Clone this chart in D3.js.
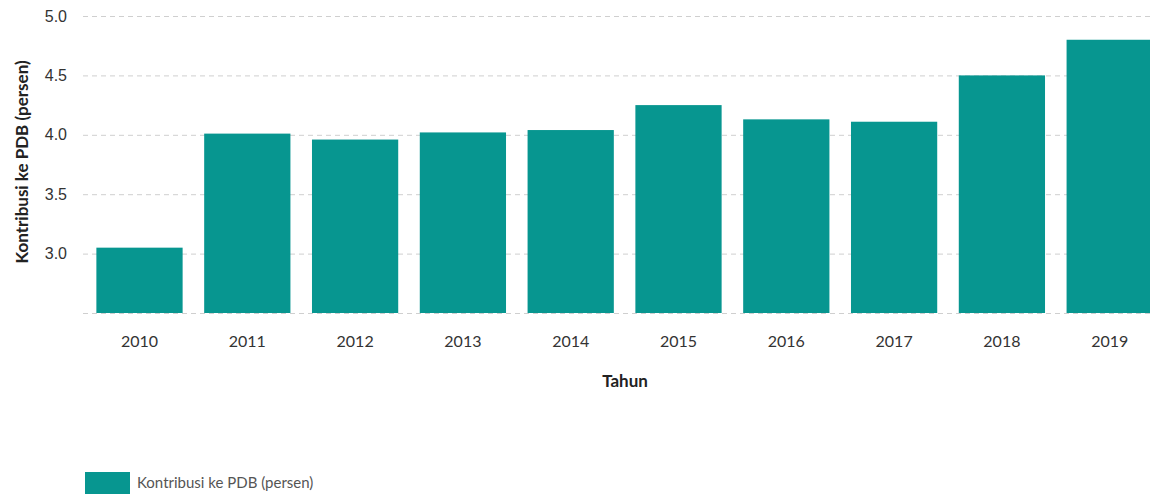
<!DOCTYPE html>
<html>
<head>
<meta charset="utf-8">
<script src="https://cdn.jsdelivr.net/npm/d3@7"></script>
<style>
  body { margin: 0; background: #fff; }
  svg { display: block; font-family: Lato, "Open Sans", sans-serif; }
</style>
</head>
<body>
<div id="chart"></div>
<script>
// data
var years  = ["2010", "2011", "2012", "2013", "2014", "2015", "2016", "2017", "2018", "2019"];
var values = [3.05, 4.01, 3.96, 4.02, 4.04, 4.25, 4.13, 4.11, 4.50, 4.80];
var yTicks = [3.0, 3.5, 4.0, 4.5, 5.0];
var gridTicks = [2.5, 3.0, 3.5, 4.0, 4.5, 5.0];
var seriesName = "Kontribusi ke PDB (persen)";

// dimensions
var svgWidth = 1150, svgHeight = 494;
var barColor = "#079690";

var svg = d3.select("#chart")
    .append("svg")
        .attr("width", svgWidth)
        .attr("height", svgHeight);

// scales
var x = d3.scaleBand()
    .domain(years)
    .range([85.6, 1163.6])
    .paddingInner(0.2)
    .paddingOuter(0.1);

var y = d3.scaleLinear()
    .domain([2.5, 5.0])
    .range([313, 16]);

// grid lines
svg.append("g")
    .selectAll("line")
    .data(gridTicks)
    .enter().append("line")
        .attr("x1", 83)
        .attr("x2", svgWidth)
        .attr("y1", function(d) { return y(d) + 0.5; })
        .attr("y2", function(d) { return y(d) + 0.5; })
        .attr("stroke", "#cfcfcf")
        .attr("stroke-dasharray", "5,4");

// bars
svg.append("g")
    .selectAll("rect")
    .data(values)
    .enter().append("rect")
        .attr("x", function(d, i) { return x(years[i]); })
        .attr("width", x.bandwidth())
        .attr("y", function(d) { return y(d); })
        .attr("height", function(d) { return y(2.5) - y(d); })
        .attr("fill", barColor);

// Y axis
var yAxis = d3.axisLeft(y).tickValues(yTicks).tickFormat(d3.format(".1f")).tickSize(0).tickPadding(0);
var yG = svg.append("g")
    .attr("transform", "translate(67,0)")
    .call(yAxis);
yG.select(".domain").remove();
yG.selectAll("text")
    .attr("font-size", 16)
    .attr("font-family", "'Liberation Sans', Arial, sans-serif")
    .attr("fill", "#333");

// X axis
var xAxis = d3.axisBottom(x).tickSize(0).tickPadding(0);
var xG = svg.append("g")
    .attr("transform", "translate(0,335.5)")
    .call(xAxis);
xG.select(".domain").remove();
xG.selectAll("text")
    .attr("font-size", 16)
    .attr("font-family", "Lato, sans-serif")
    .attr("fill", "#333");

// axis titles
svg.append("text")
    .attr("x", 625)
    .attr("y", 387)
    .attr("text-anchor", "middle")
    .attr("font-size", 17)
    .attr("font-weight", "bold")
    .attr("fill", "#222")
    .text("Tahun");

svg.append("text")
    .attr("transform", "translate(28,162) rotate(-90)")
    .attr("text-anchor", "middle")
    .attr("font-size", 17)
    .attr("font-weight", "bold")
    .attr("fill", "#222")
    .text(seriesName);

// legend
var legend = svg.append("g").attr("transform", "translate(85,472)");
legend.append("rect")
    .attr("width", 45)
    .attr("height", 22)
    .attr("fill", barColor);
legend.append("text")
    .attr("x", 52)
    .attr("y", 15.5)
    .attr("font-size", 15)
    .attr("fill", "#555")
    .text(seriesName);
</script>
</body>
</html>
